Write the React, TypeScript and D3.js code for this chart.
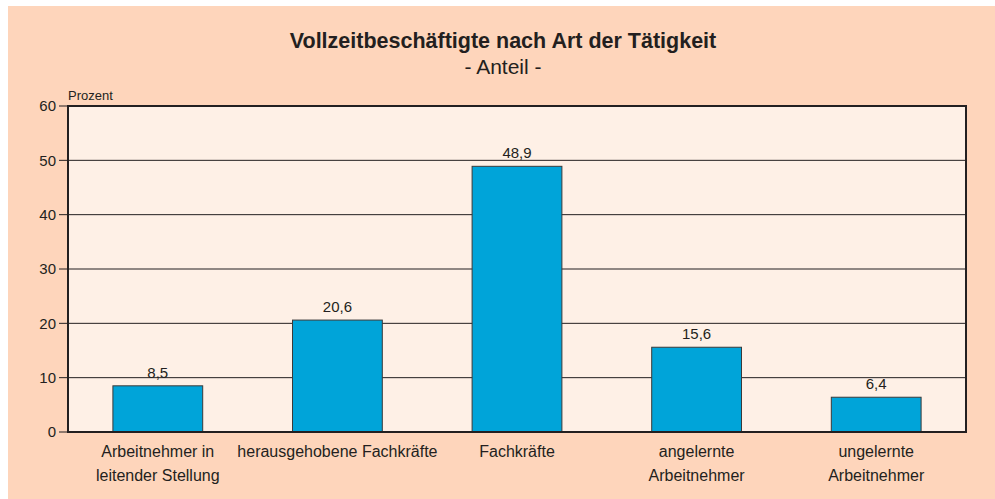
import React from "react";
import * as d3 from "d3";

// data
const categories = [
  ["Arbeitnehmer in", "leitender Stellung"],
  ["herausgehobene Fachkräfte"],
  ["Fachkräfte"],
  ["angelernte", "Arbeitnehmer"],
  ["ungelernte", "Arbeitnehmer"],
];
const values = [8.5, 20.6, 48.9, 15.6, 6.4];
const yTicks = [0, 10, 20, 30, 40, 50, 60];

const W = 995;
const H = 499;
const margin = { top: 106, right: 29, bottom: 67, left: 68 };
const font = "'Liberation Sans', Arial, Helvetica, sans-serif";
const ink = "#231f20";

const App = () => {
  const innerW = W - margin.left - margin.right;
  const innerH = H - margin.top - margin.bottom;

  const x = d3
    .scaleBand()
    .domain(categories.map((d, i) => String(i)))
    .range([margin.left, margin.left + innerW])
    .paddingInner(0.5)
    .paddingOuter(0.25);

  const y = d3
    .scaleLinear()
    .domain([0, 60])
    .range([margin.top + innerH, margin.top]);

  const fmt = (v: number) => v.toFixed(1).replace(".", ",");

  return (
    <div style={{ position: "absolute", left: 0, top: 0, width: W, height: H }}>
      <svg width={W} height={H} style={{ display: "block", fontFamily: font }}>
        <rect x={8} y={6} width={W - 8} height={H - 6} fill="#fed5bb" />
        <rect x={margin.left} y={margin.top} width={innerW} height={innerH} fill="#fef0e6" />

        {/* gridlines */}
        {yTicks.slice(1, -1).map(t => (
          <line key={"g" + t} x1={margin.left} x2={margin.left + innerW} y1={y(t)} y2={y(t)} stroke={ink} strokeWidth={1} />
        ))}

        {/* bars */}
        {values.map((v, i) => (
          <g key={"b" + i}>
            <rect
              x={x(String(i))}
              y={y(v)}
              width={x.bandwidth()}
              height={y(0) - y(v)}
              fill="#00a4d9"
              stroke="#3a3a3a"
              strokeWidth={1}
            />
            <text
              x={(x(String(i)) as number) + x.bandwidth() / 2}
              y={y(v) - 8}
              textAnchor="middle"
              fontSize={15}
              fill={ink}
            >
              {fmt(v)}
            </text>
          </g>
        ))}

        {/* frame */}
        <rect x={margin.left} y={margin.top} width={innerW} height={innerH} fill="none" stroke={ink} strokeWidth={2} />

        {/* y axis */}
        {yTicks.map(t => (
          <g key={"t" + t}>
            <line x1={margin.left - 9} x2={margin.left} y1={y(t)} y2={y(t)} stroke={ink} strokeWidth={1} />
            <text x={margin.left - 12} y={y(t)} dy="0.36em" textAnchor="end" fontSize={15} fill={ink}>
              {t}
            </text>
          </g>
        ))}
        <text x={margin.left} y={100} fontSize={13} fill={ink}>
          Prozent
        </text>

        {/* x labels */}
        {categories.map((lines, i) => (
          <text
            key={"x" + i}
            x={(x(String(i)) as number) + x.bandwidth() / 2}
            textAnchor="middle"
            fontSize={16}
            fill={ink}
          >
            {lines.map((l, j) => (
              <tspan key={j} x={(x(String(i)) as number) + x.bandwidth() / 2} y={457 + j * 24}>
                {l}
              </tspan>
            ))}
          </text>
        ))}

        {/* titles */}
        <text x={503} y={47.5} textAnchor="middle" fontSize={21.5} fontWeight="bold" fill={ink}>
          Vollzeitbeschäftigte nach Art der Tätigkeit
        </text>
        <text x={503} y={74} textAnchor="middle" fontSize={21} fill={ink}>
          - Anteil -
        </text>
      </svg>
    </div>
  );
};

export default App;
